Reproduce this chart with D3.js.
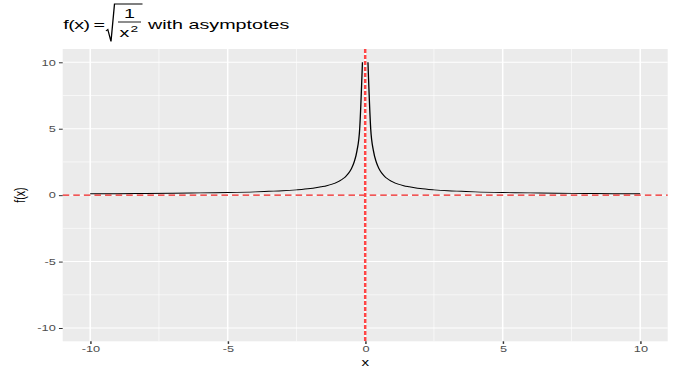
<!DOCTYPE html>
<html>
<head>
<meta charset="utf-8">
<script src="https://cdn.jsdelivr.net/npm/d3@7"></script>
<style>
  body { margin: 0; background: #fff; }
  svg { display: block; }
  text { font-family: "Liberation Sans", Arial, sans-serif; }
</style>
</head>
<body>
<svg id="chart"></svg>
<script>
// curve points (left and right branch, gap at x = 0)
const leftX  = [-10, -9, -8, -7, -6, -5, -4, -3.5, -3, -2.5, -2, -1.8, -1.6, -1.4, -1.2, -1, -0.9, -0.8, -0.7, -0.6, -0.5, -0.4, -0.3, -0.2, -0.1]
const leftY  = [0.1, 0.11, 0.125, 0.14, 0.17, 0.2, 0.25, 0.29, 0.33, 0.4, 0.5, 0.56, 0.63, 0.71, 0.83, 1, 1.11, 1.25, 1.43, 1.67, 2, 2.5, 3.33, 5, 10]
const rightX = [0.1, 0.2, 0.3, 0.4, 0.5, 0.6, 0.7, 0.8, 0.9, 1, 1.2, 1.4, 1.6, 1.8, 2, 2.5, 3, 3.5, 4, 5, 6, 7, 8, 9, 10]
const rightY = [10, 5, 3.33, 2.5, 2, 1.67, 1.43, 1.25, 1.11, 1, 0.83, 0.71, 0.63, 0.56, 0.5, 0.4, 0.33, 0.29, 0.25, 0.2, 0.17, 0.14, 0.125, 0.11, 0.1]

const xTicks = [-10, -5, 0, 5, 10]
const yTicks = [-10, -5, 0, 5, 10]
const xMinor = [-7.5, -2.5, 2.5, 7.5]
const yMinor = [-7.5, -2.5, 2.5, 7.5]
const xDomain = [-11, 11]
const yDomain = [-11, 11]
const hAsymptote = 0
const vAsymptote = 0

// the reference is stretched sideways, so draw narrow and stretch the viewBox
const S = 1.45
const W = 675 / S
const H = 371
const panel = { left: 62.7 / S, right: 667.7 / S, top: 49, bottom: 341.3 }

const svg = d3.select('#chart')
  .attr('width', 675)
  .attr('height', H)
  .attr('viewBox', [0, 0, W, H])
  .attr('preserveAspectRatio', 'none')

const x = d3.scaleLinear().domain(xDomain).range([panel.left, panel.right])
const y = d3.scaleLinear().domain(yDomain).range([panel.bottom, panel.top])

// panel background
svg.append('rect')
  .attr('x', panel.left)
  .attr('y', panel.top)
  .attr('width', panel.right - panel.left)
  .attr('height', panel.bottom - panel.top)
  .attr('fill', '#ebebeb')

// grid, minor then major
const grid = svg.append('g')
grid.selectAll('.vminor').data(xMinor).join('line')
  .attr('x1', d => x(d)).attr('x2', d => x(d))
  .attr('y1', panel.top).attr('y2', panel.bottom)
  .attr('stroke', '#fff').attr('stroke-width', 0.5)
grid.selectAll('.hminor').data(yMinor).join('line')
  .attr('y1', d => y(d)).attr('y2', d => y(d))
  .attr('x1', panel.left).attr('x2', panel.right)
  .attr('stroke', '#fff').attr('stroke-width', 0.5)
grid.selectAll('.vmajor').data(xTicks).join('line')
  .attr('x1', d => x(d)).attr('x2', d => x(d))
  .attr('y1', panel.top).attr('y2', panel.bottom)
  .attr('stroke', '#fff').attr('stroke-width', 1.05)
grid.selectAll('.hmajor').data(yTicks).join('line')
  .attr('y1', d => y(d)).attr('y2', d => y(d))
  .attr('x1', panel.left).attr('x2', panel.right)
  .attr('stroke', '#fff').attr('stroke-width', 1.05)

// function curve
const line = d3.line()
  .x(d => x(d[0]))
  .y(d => y(d[1]))
  .curve(d3.curveMonotoneX)

const branches = [
  leftX.map((v, i) => [v, leftY[i]]),
  rightX.map((v, i) => [v, rightY[i]])
]
svg.append('g').selectAll('path').data(branches).join('path')
  .attr('d', line)
  .attr('fill', 'none')
  .attr('stroke', '#000')
  .attr('stroke-width', 0.9)

// asymptotes
svg.append('line')
  .attr('x1', panel.left).attr('x2', panel.right)
  .attr('y1', y(hAsymptote)).attr('y2', y(hAsymptote))
  .attr('stroke', '#ee2020')
  .attr('stroke-width', 1.1)
  .attr('stroke-dasharray', '4.5 2.8')
svg.append('line')
  .attr('x1', x(vAsymptote)).attr('x2', x(vAsymptote))
  .attr('y1', panel.top).attr('y2', panel.bottom)
  .attr('stroke', '#ff4545')
  .attr('stroke-width', 1.7)
  .attr('stroke-dasharray', '4 2')

// axes (ggplot prints a plain hyphen for negatives)
const fmt = d => String(d)
const xAxis = svg.append('g')
  .attr('transform', `translate(0,${panel.bottom})`)
  .call(d3.axisBottom(x).tickValues(xTicks).tickFormat(fmt).tickSize(2.6).tickPadding(2.2))
const yAxis = svg.append('g')
  .attr('transform', `translate(${panel.left},0)`)
  .call(d3.axisLeft(y).tickValues(yTicks).tickFormat(fmt).tickSize(2.6).tickPadding(2.2))

for (const ax of [xAxis, yAxis]) {
  ax.select('.domain').remove()
  ax.selectAll('.tick line').attr('stroke', '#333')
  ax.selectAll('.tick text')
    .attr('fill', '#4d4d4d')
    .attr('font-size', 8.8)
    .attr('font-family', '"Liberation Sans", Arial, sans-serif')
}

// axis titles
svg.append('text')
  .attr('x', x(0))
  .attr('y', 366)
  .attr('text-anchor', 'middle')
  .attr('font-size', 10.5)
  .text('x')
svg.append('text')
  .attr('transform', `translate(${25 / S},${(panel.top + panel.bottom) / 2}) rotate(-90)`)
  .attr('text-anchor', 'middle')
  .attr('font-size', 10.5)
  .text('f(x)')

// title: f(x) = sqrt(1 / x^2) with asymptotes
const title = svg.append('g').attr('font-size', 13.6).attr('fill', '#000')
title.append('text').attr('x', 63.3 / S).attr('y', 29).attr('letter-spacing', -0.4).text('f(x)')
title.append('text').attr('x', 93.5 / S).attr('y', 29).text('=')
title.append('path')
  .attr('d', `M${106 / S},31 L${107.8 / S},29.5 L${111 / S},41.5 L${114.5 / S},4 L${142.5 / S},4`)
  .attr('fill', 'none')
  .attr('stroke', '#000')
  .attr('stroke-width', 0.9)
title.append('text').attr('x', 129.5 / S).attr('y', 18.5).attr('text-anchor', 'middle').text('1')
title.append('line')
  .attr('x1', 118 / S).attr('x2', 141 / S)
  .attr('y1', 22).attr('y2', 22)
  .attr('stroke', '#000').attr('stroke-width', 0.9)
title.append('text').attr('x', 119.5 / S).attr('y', 37.5).text('x')
title.append('text').attr('x', 130.5 / S).attr('y', 32).attr('font-size', 9.5).text('2')
title.append('text').attr('x', 148 / S).attr('y', 29).text('with asymptotes')
</script>
</body>
</html>
